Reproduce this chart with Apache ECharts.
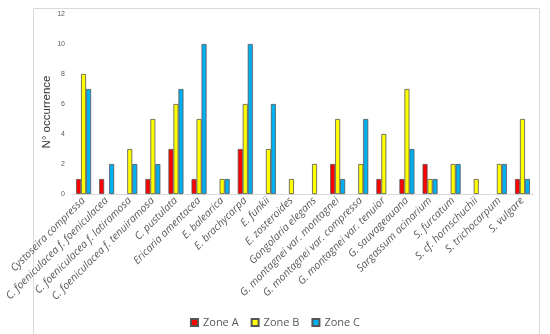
<!DOCTYPE html>
<html><head><meta charset="utf-8">
<script src="https://cdn.jsdelivr.net/npm/echarts@6/dist/echarts.min.js"></script>
<style>html,body{margin:0;padding:0;background:#fff}#c{width:550px;height:334px}</style>
</head><body><div id="c"></div>
<script>
const categories = ["Cystoseira compressa","C. foeniculacea f. foeniculacea","C. foeniculacea f. latiramosa","C. foeniculacea f. tenuiramosa","C. pustulata","Ericaria amentacea","E. balearica","E. brachycarpa","E. funkii","E. zosteroides","Gongolaria elegans","G. montagnei var. montagnei","G. montagnei var. compressa","G. montagnei var. tenuior","G. sauvageauana","Sargassum acinarium","S. furcatum","S. cf. hornschuchii","S. trichocarpum","S. vulgare"];
const zoneA = [1,1,0,1,3,1,0,3,0,0,0,2,0,1,1,2,0,0,0,1];
const zoneB = [8,0,3,5,6,5,1,6,3,1,2,5,2,4,7,1,2,1,2,5];
const zoneC = [7,2,2,2,7,10,1,10,6,0,0,1,5,0,3,1,2,0,2,1];
const yTicks = [0,2,4,6,8,10,12];

const nz = a => a.map(v => v === 0 ? '-' : v);
const chart = echarts.init(document.getElementById('c'));
const mk = (name, data, color) => ({
  name, type: 'bar', data: nz(data), barWidth: 5, barGap: '0%',
  itemStyle: {color, borderColor: '#555', borderWidth: 0.8}
});
chart.setOption({
  animation: false,
  graphic: [{type:'rect', shape:{x:33.5,y:8.5,width:506,height:340}, style:{fill:'none', stroke:'#d9d9d9', lineWidth:1}, silent:true}],
  grid: {left: 72, right: 16, top: 14, bottom: 140, containLabel: false},
  xAxis: {
    type: 'category', data: categories,
    axisLine: {lineStyle: {color: '#d9d9d9'}},
    axisTick: {show: false},
    axisLabel: {interval: 0, rotate: 45, fontStyle: 'italic', fontSize: 10.5, color: '#595959', fontFamily: 'Open Sans', margin: 5}
  },
  yAxis: {
    type: 'value', min: yTicks[0], max: yTicks[yTicks.length-1], interval: 2,
    name: 'N° occurrence', nameLocation: 'middle', nameGap: 19, nameMoveOverlap: false,
    nameTextStyle: {fontSize: 11.5, color: '#333', fontFamily: 'Liberation Sans', padding: [0, 16, 0, 0]},
    axisLine: {show: false}, axisTick: {show: false}, splitLine: {show: false},
    axisLabel: {fontSize: 7, color: '#595959', margin: 7}
  },
  legend: {
    bottom: 1, left: 'center', icon: 'rect', itemWidth: 7, itemHeight: 7, itemGap: 12,
    textStyle: {fontSize: 11, color: '#595959', fontFamily: 'Open Sans'},
    data: ['Zone A','Zone B','Zone C']
  },
  series: [mk('Zone A', zoneA, '#ff0000'), mk('Zone B', zoneB, '#ffff00'), mk('Zone C', zoneC, '#00b0f0')]
});
</script></body></html>
